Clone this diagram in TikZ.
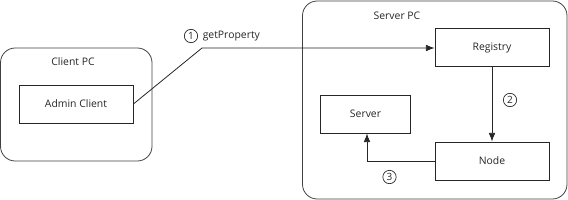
\documentclass[tikz,border=0pt]{standalone}
\usepackage{fontspec}
\setmainfont{Open Sans}
\usetikzlibrary{arrows.meta}
\begin{document}
\begin{tikzpicture}[x=0.75pt,y=-0.75pt,
  every node/.style={font=\fontsize{7.8}{9}\selectfont, text=black!85},
  pc/.style={draw=black!75, line width=0.6pt, rounded corners=11pt},
  box/.style={draw=black!85, line width=0.6pt, minimum width=85.5pt, minimum height=28.5pt, inner sep=0pt},
  num/.style={draw=black!85, circle, line width=0.5pt, minimum size=10pt, inner sep=0pt, font=\fontsize{7.5}{8}\selectfont},
  conn/.style={draw=black!85, line width=0.6pt, -{Latex[length=6.5pt,width=5pt]}}]
\useasboundingbox (0,0) rectangle (568,200);
% containers
\draw[pc] (0.5,48) rectangle (152,161);
\node (clientlbl) at (73,62) {Client PC};
\draw[pc] (302.5,1) rectangle (567,199);
\node (serverlbl) at (397,16) {Server PC};
% boxes
\node[box] (admin) at (76,104) {Admin Client};
\node[box] (registry) at (492,47.5) {Registry};
\node[box, minimum width=67pt] (server) at (365.5,114) {Server};
\node[box] (node) at (492,161) {Node};
% connectors
\coordinate (bend1) at (202,48);
\draw[conn] (admin.east) -- (bend1) -- (registry.west |- bend1);
\node[num] (n1) at (191,36) {1};
\node[anchor=west, inner sep=0pt] (gp) at (202.5,36) {getProperty};
\draw[conn] (registry.south) -- (node.north);
\node[num] (n2) at (510,100) {2};
\coordinate (bend3) at (367,161);
\draw[conn] (node.west) -- (bend3) -- (bend3 |- server.south);
\node[num] (n3) at (389.5,177) {3};
\end{tikzpicture}
\end{document}
